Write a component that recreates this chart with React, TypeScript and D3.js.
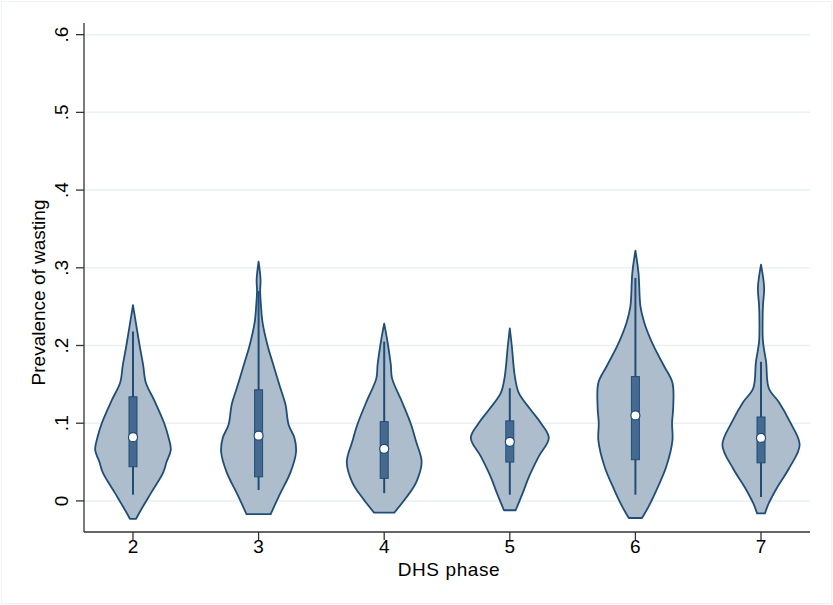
import React from 'react'
import * as d3 from 'd3'

// DHS phases on the x axis
const phases = [2, 3, 4, 5, 6, 7]

// violin outlines: [prevalence, relative half-width]
const outline2 = [[-0.023, 0.08], [-0.012, 0.2], [0.01, 0.46], [0.036, 0.77], [0.05, 0.86], [0.066, 0.97], [0.082, 0.91], [0.1, 0.8], [0.13, 0.54], [0.152, 0.33], [0.175, 0.26], [0.2, 0.17], [0.252, 0]]
const outline3 = [[-0.017, 0.31], [0.008, 0.54], [0.037, 0.82], [0.063, 0.96], [0.081, 0.92], [0.098, 0.77], [0.124, 0.69], [0.145, 0.56], [0.178, 0.36], [0.2, 0.23], [0.23, 0.1], [0.252, 0.06], [0.27, 0.04], [0.285, 0.05], [0.308, 0]]
const outline4 = [[-0.015, 0.26], [0.004, 0.56], [0.024, 0.82], [0.05, 0.96], [0.076, 0.82], [0.098, 0.69], [0.127, 0.46], [0.158, 0.2], [0.175, 0.17], [0.2, 0.1], [0.215, 0.05], [0.228, 0]]
const outline5 = [[-0.012, 0.15], [0.01, 0.33], [0.031, 0.49], [0.057, 0.74], [0.081, 1.0], [0.1, 0.8], [0.117, 0.54], [0.139, 0.23], [0.16, 0.13], [0.2, 0.05], [0.222, 0]]
const outline6 = [[-0.022, 0.17], [-0.008, 0.33], [0.014, 0.54], [0.044, 0.79], [0.078, 0.95], [0.1, 0.94], [0.121, 0.97], [0.152, 0.95], [0.173, 0.74], [0.2, 0.46], [0.229, 0.23], [0.25, 0.13], [0.293, 0.08], [0.322, 0]]
const outline7 = [[-0.016, 0.1], [-0.003, 0.2], [0.017, 0.41], [0.042, 0.72], [0.072, 0.99], [0.102, 0.74], [0.127, 0.46], [0.145, 0.2], [0.179, 0.13], [0.205, 0.05], [0.23, 0.04], [0.252, 0.05], [0.274, 0.08], [0.304, 0]]
const outlines = [outline2, outline3, outline4, outline5, outline6, outline7]

// box plot stats per phase
const whiskerLo = [0.008, 0.014, 0.01, 0.008, 0.008, 0.005]
const q1 = [0.044, 0.031, 0.029, 0.05, 0.053, 0.049]
const medians = [0.082, 0.084, 0.067, 0.076, 0.11, 0.081]
const q3 = [0.134, 0.143, 0.102, 0.103, 0.16, 0.108]
const whiskerHi = [0.218, 0.27, 0.205, 0.145, 0.287, 0.179]

const yTicks = [0, 0.1, 0.2, 0.3, 0.4, 0.5, 0.6]
const yTickLabels = ['0', '.1', '.2', '.3', '.4', '.5', '.6']

const W = 833
const H = 605
const left = 84
const right = 810
const top = 23
const bottom = 532

const fill = '#aebdcc'
const dark = '#1f4d78'
const boxFill = '#46698f'
const grid = '#e9f1f3'
const font = '"Liberation Sans", Arial, Helvetica, sans-serif'

export default function App() {
  const x = d3.scalePoint<number>().domain(phases).range([left, right]).padding(0.39)
  const y = d3.scaleLinear().domain([-0.04, 0.615]).range([bottom, top])
  const w = d3.scaleLinear().domain([0, 1]).range([0, 39])

  return (
    <svg width={W} height={H} style={{ position: 'absolute', left: 0, top: 0, background: '#fff' }}>
      <rect x={1.5} y={1.5} width={W - 3} height={H - 3} fill="#fff" stroke="#eef4f5" />

      {yTicks.map((t) => (
        <line key={'g' + t} x1={left} x2={right} y1={y(t)} y2={y(t)} stroke={grid} strokeWidth={1.5} />
      ))}

      {phases.map((p, i) => {
        const cx = x(p)!
        const area = d3.area<number[]>()
          .y((d) => y(d[0]))
          .x0((d) => cx - w(d[1]))
          .x1((d) => cx + w(d[1]))
          .curve(d3.curveCatmullRom)
        return (
          <g key={p}>
            <path d={area(outlines[i]) || ''} fill={fill} stroke={dark} strokeWidth={1.8} strokeLinejoin="round" />
            <line x1={cx} x2={cx} y1={y(whiskerLo[i])} y2={y(whiskerHi[i])} stroke={dark} strokeWidth={2} />
            <rect x={cx - 4} width={8} y={y(q3[i])} height={y(q1[i]) - y(q3[i])} fill={boxFill} stroke={dark} strokeWidth={1} />
            <circle cx={cx} cy={y(medians[i])} r={4.5} fill="#fff" stroke={dark} strokeWidth={1.2} />
          </g>
        )
      })}

      {/* y axis */}
      <line x1={left} x2={left} y1={top} y2={bottom} stroke="#333" strokeWidth={1.3} />
      {yTicks.map((t, i) => (
        <g key={'y' + t}>
          <line x1={left - 8} x2={left} y1={y(t)} y2={y(t)} stroke="#333" strokeWidth={1.3} />
          <text
            transform={`translate(${68},${y(t)}) rotate(-90)`}
            textAnchor="middle"
            fontFamily={font}
            fontSize={19}
            fill="#000"
          >
            {yTickLabels[i]}
          </text>
        </g>
      ))}
      <text
        transform={`translate(${45},${(top + bottom) / 2 + 15}) rotate(-90)`}
        textAnchor="middle"
        fontFamily={font}
        fontSize={19}
        fill="#000"
      >
        Prevalence of wasting
      </text>

      {/* x axis */}
      <line x1={left} x2={right} y1={bottom} y2={bottom} stroke="#333" strokeWidth={1.3} />
      {phases.map((p) => (
        <g key={'x' + p}>
          <line x1={x(p)} x2={x(p)} y1={bottom} y2={bottom + 8} stroke="#333" strokeWidth={1.3} />
          <text x={x(p)} y={553} textAnchor="middle" fontFamily={font} fontSize={19} fill="#000">
            {p}
          </text>
        </g>
      ))}
      <text x={(left + right) / 2 + 2} y={576} textAnchor="middle" fontFamily={font} fontSize={19} fill="#000" letterSpacing={0.6}>
        DHS phase
      </text>
    </svg>
  )
}
